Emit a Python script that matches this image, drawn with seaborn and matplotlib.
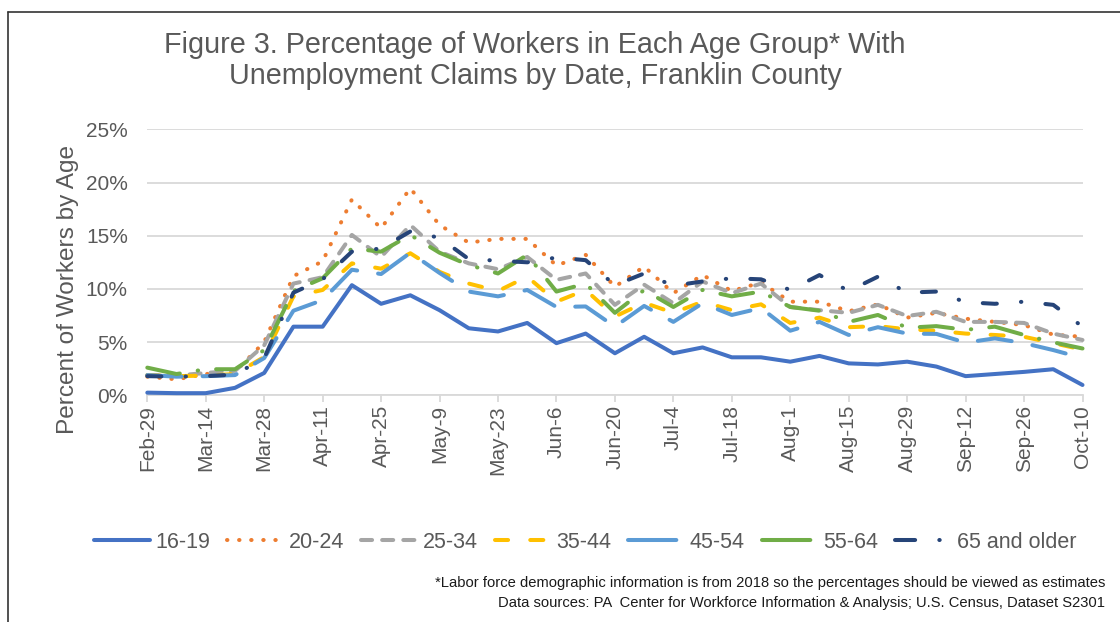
import matplotlib
matplotlib.use("Agg")
import matplotlib.pyplot as plt
from matplotlib.lines import Line2D
import seaborn as sns
import numpy as np

# ---------------- data ----------------
dates = ["Feb-29", "Mar-7", "Mar-14", "Mar-21", "Mar-28", "Apr-4", "Apr-11", "Apr-18",
         "Apr-25", "May-2", "May-9", "May-16", "May-23", "May-30", "Jun-6", "Jun-13",
         "Jun-20", "Jun-27", "Jul-4", "Jul-11", "Jul-18", "Jul-25", "Aug-1", "Aug-8",
         "Aug-15", "Aug-22", "Aug-29", "Sep-5", "Sep-12", "Sep-19", "Sep-26", "Oct-3", "Oct-10"]

age_16_19 = [0.25, 0.2, 0.2, 0.7, 2.1, 6.45, 6.45, 10.35, 8.6, 9.4, 8.0, 6.3, 6.0, 6.8, 4.9, 5.8,
             3.95, 5.5, 3.95, 4.5, 3.57, 3.57, 3.16, 3.7, 3.0, 2.9, 3.16, 2.7, 1.8, 2.0, 2.2, 2.45, 0.97]
age_20_24 = [1.75, 1.5, 2.0, 2.2, 5.0, 11.2, 12.6, 18.4, 15.7, 19.45, 16.0, 14.35, 14.7, 14.7, 12.2, 13.2,
             10.2, 12.1, 9.6, 11.3, 9.8, 10.6, 8.8, 8.8, 7.9, 8.55, 7.3, 7.75, 7.2, 6.9, 6.6, 5.7, 5.5]
age_25_34 = [1.9, 1.85, 2.1, 2.3, 4.7, 10.5, 11.1, 15.07, 13.0, 16.0, 13.5, 12.4, 11.85, 13.0, 10.85, 11.45,
             8.5, 10.4, 8.65, 10.7, 9.6, 10.5, 8.3, 8.0, 7.75, 8.5, 7.45, 7.85, 6.9, 6.9, 6.8, 5.8, 5.2]
age_35_44 = [1.9, 1.8, 1.85, 2.0, 3.6, 9.3, 9.9, 12.4, 11.9, 13.35, 11.6, 10.5, 9.8, 11.15, 8.8, 9.9,
             7.4, 8.7, 7.75, 8.8, 8.0, 8.55, 6.8, 7.3, 6.4, 6.5, 6.2, 6.07, 5.8, 5.67, 5.5, 4.9, 4.3]
age_45_54 = [1.9, 1.75, 1.8, 1.9, 3.5, 7.95, 8.95, 11.8, 11.4, 13.4, 11.5, 9.75, 9.3, 9.9, 8.3, 8.35,
             6.45, 8.4, 6.9, 8.65, 7.55, 8.2, 6.07, 6.9, 5.67, 6.4, 5.8, 5.77, 4.95, 5.35, 4.9, 4.25, 3.5]
age_55_64 = [2.6, 2.0, 2.45, 2.45, 4.25, 9.8, 11.0, 13.8, 13.5, 15.07, 13.4, 12.25, 11.45, 13.2, 9.75, 10.5,
             7.75, 9.9, 8.3, 9.9, 9.3, 9.75, 8.3, 7.95, 6.9, 7.55, 6.35, 6.5, 6.15, 6.45, 5.67, 4.98, 4.4]
age_65_up = [1.8, 1.75, 1.8, 1.95, 3.5, 9.65, 10.9, 13.5, 13.8, 15.4, 14.8, 12.8, 12.65, 12.5, 12.95, 12.7,
             10.35, 11.45, 10.3, 10.7, 11.0, 10.9, 9.9, 11.3, 9.8, 11.15, 9.65, 9.75, 8.75, 8.6, 8.8, 8.5, 6.45]

series_names = ["16-19", "20-24", "25-34", "35-44", "45-54", "55-64", "65 and older"]
series_values = [age_16_19, age_20_24, age_25_34, age_35_44, age_45_54, age_55_64, age_65_up]
y_ticks = [0, 5, 10, 15, 20, 25]

# ---------------- styles ----------------
colors = ["#4472C4", "#ED7D31", "#A5A5A5", "#FFC000", "#5B9BD5", "#70AD47", "#264478"]
styles = ["-", (0, (0.1, 2.9)), (0, (2.75, 2.5)), (0, (3.25, 5.5)), (0, (8.5, 5.25)),
          (0, (8.25, 4.5, 0.1, 4.5)), (0, (3.5, 6.0, 0.1, 6.0))]
legend_styles = ["-", (0, (0.1, 2.9)), (0, (2.75, 2.5)), (0, (3.25, 5.5)), (0, (12, 2)),
                 (0, (12, 2)), (0, (5.0, 6.0, 0.1, 10.0))]

TXT = "#595959"
W, H = 1120, 622

sns.set_theme(style="white")
plt.rcParams["font.family"] = ["Liberation Sans", "DejaVu Sans"]

fig = plt.figure(figsize=(W / 100, H / 100), dpi=100)
left, right, top, bottom = 147.3, 1082.5, 129.3, 395.3
ax = fig.add_axes([left / W, 1 - bottom / H, (right - left) / W, (bottom - top) / H])

x = np.arange(len(dates))
for name, vals, col, ls in zip(series_names, series_values, colors, styles):
    sns.lineplot(x=x, y=vals, ax=ax, color=col, linewidth=2.9, linestyle=ls,
                 label=name, errorbar=None, clip_on=False, zorder=3)
    ln = ax.lines[-1]
    ln.set_dash_capstyle("round")
    ln.set_solid_capstyle("round")
    ln.set_solid_joinstyle("round")
    ln.set_dash_joinstyle("round")

if ax.get_legend() is not None:
    ax.get_legend().remove()

ax.set_xlim(0, len(dates) - 1)
ax.set_ylim(0, 25)
ax.set_xticks(x[::2])
ax.set_xticklabels(dates[::2], rotation=90)
ax.set_yticks(y_ticks)
ax.set_yticklabels([f"{v}%" for v in y_ticks])
ax.set_xlabel("")
ax.set_ylabel("")

ax.yaxis.grid(True, color="#D9D9D9", linewidth=1.3, zorder=0)
ax.xaxis.grid(False)
for s in ["top", "right", "left"]:
    ax.spines[s].set_visible(False)
ax.spines["bottom"].set_color("#D9D9D9")
ax.spines["bottom"].set_linewidth(1.3)
ax.tick_params(axis="x", length=5, width=1.3, color="#D9D9D9", labelsize=15,
               labelcolor=TXT, pad=2, bottom=True)
ax.tick_params(axis="y", length=0, labelsize=15, labelcolor=TXT, pad=14)

# titles and labels
fig.text(535 / W, 1 - 45 / H, "Figure 3. Percentage of Workers in Each Age Group* With",
         ha="center", va="center", fontsize=20.7, color=TXT)
fig.text(535 / W, 1 - 76 / H, "Unemployment Claims by Date, Franklin County",
         ha="center", va="center", fontsize=20.7, color=TXT)
fig.text(68 / W, 1 - 290 / H, "Percent of Workers by Age", rotation=90,
         ha="center", va="center", fontsize=17.6, color=TXT)

# legend handles styled like the series
leg_handles = []
for col, ls in zip(colors, legend_styles):
    h = Line2D([], [], color=col, linewidth=2.9, linestyle=ls)
    h.set_dash_capstyle("round")
    h.set_solid_capstyle("round")
    leg_handles.append(h)

fig.legend(leg_handles, series_names, loc="center", bbox_to_anchor=(585 / W, 1 - 542 / H),
           ncol=7, frameon=False, fontsize=15.5, handlelength=2.6, handletextpad=0.25,
           columnspacing=0.8, labelcolor=TXT)

fig.text(1105 / W, 1 - 583 / H,
         "*Labor force demographic information is from 2018 so the percentages should be viewed as estimates",
         ha="right", va="center", fontsize=10.6, color="#1a1a1a")
fig.text(1105 / W, 1 - 603 / H,
         "Data sources: PA  Center for Workforce Information & Analysis; U.S. Census, Dataset S2301",
         ha="right", va="center", fontsize=10.6, color="#1a1a1a")

# chart border (top and left edges visible)
fig.add_artist(Line2D([7.5 / W, 1.0], [1 - 11.5 / H, 1 - 11.5 / H], transform=fig.transFigure,
                      color="#333333", linewidth=1.2))
fig.add_artist(Line2D([7.5 / W, 7.5 / W], [0.0, 1 - 11.5 / H], transform=fig.transFigure,
                      color="#333333", linewidth=1.2))

fig.savefig("out.png", dpi=100, facecolor="white")
